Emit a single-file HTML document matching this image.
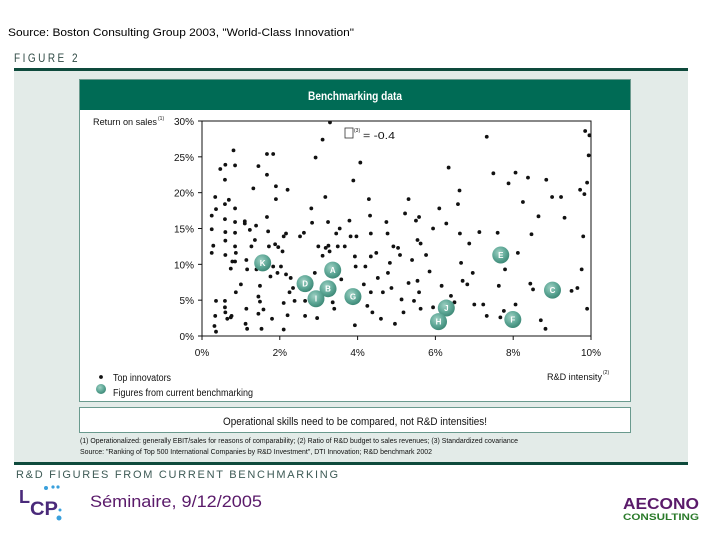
<!DOCTYPE html>
<html><head><meta charset="utf-8">
<style>
html,body{margin:0;padding:0;background:#fff;width:720px;height:540px;overflow:hidden}
svg{display:block;font-family:"Liberation Sans",sans-serif}
</style></head>
<body>
<svg id="root" width="720" height="540" viewBox="0 0 720 540">
<defs>
<radialGradient id="bub" cx="40%" cy="35%" r="65%">
<stop offset="0" stop-color="#9fd0c3"/><stop offset="0.6" stop-color="#5fa897"/><stop offset="1" stop-color="#3f8a78"/>
</radialGradient>
</defs>
<text x="8" y="36" font-size="11" fill="#000" textLength="346" lengthAdjust="spacingAndGlyphs">Source: Boston Consulting Group 2003, "World-Class Innovation"</text>
<text x="14" y="62" font-size="12" fill="#2f4a45" letter-spacing="3" textLength="66" lengthAdjust="spacingAndGlyphs">FIGURE 2</text>
<rect x="14" y="68" width="674" height="397" fill="#e3ebe8"/>
<rect x="14" y="68" width="674" height="3" fill="#0e4a3c"/>
<rect x="14" y="462" width="674" height="3" fill="#0e4a3c"/>
<rect x="79.5" y="79.5" width="551" height="322" fill="#fff" stroke="#6a9a8e"/>
<rect x="80" y="80" width="550" height="30" fill="#006b55"/>
<text x="355" y="100" font-size="12" font-weight="bold" fill="#fff" text-anchor="middle" textLength="94" lengthAdjust="spacingAndGlyphs">Benchmarking data</text>
<text x="93" y="125" font-size="9" fill="#111" textLength="64" lengthAdjust="spacingAndGlyphs">Return on sales</text>
<text x="158" y="120" font-size="5" fill="#111">(1)</text>
<g id="plot"></g>
<rect x="345" y="128" width="8" height="10" fill="none" stroke="#333" stroke-width="0.8"/>
<text x="354" y="132" font-size="5" fill="#111">(3)</text>
<text x="363" y="139" font-size="10" fill="#111" textLength="32" lengthAdjust="spacingAndGlyphs">= -0.4</text>
<circle cx="101" cy="377" r="1.9" fill="#111"/>
<text x="113" y="381" font-size="10" fill="#111" textLength="58" lengthAdjust="spacingAndGlyphs">Top innovators</text>
<circle cx="101" cy="389" r="5" fill="url(#bub)"/>
<text x="113" y="396" font-size="10" fill="#111" textLength="140" lengthAdjust="spacingAndGlyphs">Figures from current benchmarking</text>
<text x="547" y="380" font-size="9" fill="#111" textLength="55" lengthAdjust="spacingAndGlyphs">R&amp;D intensity</text>
<text x="603" y="374" font-size="5" fill="#111">(2)</text>
<rect x="79.5" y="407.5" width="551" height="25" fill="#fff" stroke="#6a9a8e"/>
<text x="355" y="425" font-size="11" fill="#111" text-anchor="middle" textLength="264" lengthAdjust="spacingAndGlyphs">Operational skills need to be compared, not R&amp;D intensities!</text>
<text x="80" y="443" font-size="7" fill="#111" textLength="438" lengthAdjust="spacingAndGlyphs">(1) Operationalized: generally EBIT/sales for reasons of comparability; (2) Ratio of R&amp;D budget to sales revenues; (3) Standardized covariance</text>
<text x="80" y="454" font-size="7" fill="#111" textLength="352" lengthAdjust="spacingAndGlyphs">Source: "Ranking of Top 500 International Companies by R&amp;D Investment", DTI Innovation; R&amp;D benchmark 2002</text>
<text x="16" y="478" font-size="11" fill="#3d5a55" textLength="322" lengthAdjust="spacing">R&amp;D FIGURES FROM CURRENT BENCHMARKING</text>
<g>
<text x="19" y="503" font-size="18" font-weight="bold" fill="#4a2a7a">L</text>
<text x="30" y="515" font-size="19" font-weight="bold" fill="#4a2a7a" textLength="28" lengthAdjust="spacingAndGlyphs">CP</text>
<circle cx="46" cy="488" r="2" fill="#3aa0dc"/><circle cx="53" cy="487" r="1.6" fill="#3aa0dc"/><circle cx="58" cy="487" r="1.6" fill="#3aa0dc"/>
<circle cx="60" cy="510" r="1.5" fill="#3aa0dc"/><circle cx="59" cy="518" r="2.5" fill="#3aa0dc"/>
</g>
<text x="90" y="507" font-size="17" fill="#5a1a6a" textLength="172" lengthAdjust="spacingAndGlyphs">Séminaire, 9/12/2005</text>
<text x="623" y="509" font-size="16" font-weight="bold" fill="#5a1a6a" textLength="76" lengthAdjust="spacingAndGlyphs">AECONO</text>
<text x="623" y="520" font-size="9" font-weight="bold" fill="#2a7a2a" textLength="76" lengthAdjust="spacingAndGlyphs">CONSULTING</text>
</svg>
<script>
const xTicks=[0,2,4,6,8,10];
const yTicks=[0,5,10,15,20,25,30];
const xTickLabels=["0%","2%","4%","6%","8%","10%"];
const yTickLabels=["0%","5%","10%","15%","20%","25%","30%"];
const innovX=[.25,.25,.29,.25,.34,.36,.36,.34,.32,.36,.47,.59,.6,.59,.59,.6,.6,.6,.59,.59,.6,.65,.69,.76,.81,.85,.85,.85,.85,.85,.87,.85,.78,.74,.87,.74,1.0,1.1,1.1,1.14,1.16,1.14,1.12,1.16,1.23,1.27,1.32,1.36,1.39,1.4,1.45,1.45,1.45,1.49,1.53,1.53,1.49,1.58,1.67,1.83,1.67,1.67,1.7,1.72,1.76,1.8,1.83,1.88,1.9,1.9,1.94,1.96,2.03,2.07,2.1,2.1,2.1,2.16,2.2,2.16,2.2,2.25,2.28,2.34,2.38,2.52,2.56,2.62,2.65,2.65,2.81,2.83,2.9,2.92,2.96,2.99,3.1,3.1,3.17,3.18,3.24,3.25,3.28,3.29,3.36,3.4,3.45,3.49,3.54,3.58,3.67,3.79,3.82,3.89,3.93,3.97,3.95,3.93,4.07,4.16,4.2,4.25,4.29,4.32,4.34,4.34,4.34,4.38,4.48,4.52,4.6,4.65,4.74,4.77,4.78,4.83,4.87,4.92,4.96,5.04,5.09,5.13,5.18,5.22,5.31,5.31,5.4,5.45,5.5,5.54,5.54,5.58,5.62,5.58,5.62,5.76,5.85,5.94,5.94,6.1,6.16,6.28,6.34,6.4,6.49,6.58,6.62,6.63,6.66,6.7,6.82,6.87,6.96,7.0,7.13,7.23,7.32,7.32,7.49,7.6,7.63,7.67,7.79,7.76,7.88,8.06,8.06,8.12,8.25,8.38,8.44,8.47,8.51,8.65,8.71,8.83,8.85,9.0,9.23,9.32,9.5,9.65,9.72,9.76,9.8,9.83,9.85,9.9,9.9,9.94,9.96];
const innovY=[16.8,14.9,12.6,11.6,19.4,17.7,4.9,2.8,1.4,0.6,23.3,21.8,23.9,18.4,16.3,14.5,13.3,11.3,4.9,4.0,3.3,2.4,19.0,2.8,25.9,23.8,17.8,15.9,14.4,12.5,11.6,10.4,10.4,9.4,6.1,2.6,7.2,16.0,15.7,10.6,9.3,3.8,1.7,1.0,14.8,12.5,20.6,13.4,15.4,9.3,23.7,5.5,3.1,7.0,1.0,11.0,4.8,3.7,25.4,25.4,16.6,22.5,14.6,12.5,8.3,2.4,9.7,12.8,19.1,20.9,8.8,12.4,9.7,11.8,13.9,4.6,0.9,14.3,20.4,8.6,2.9,6.1,8.1,6.7,4.9,13.9,7.9,14.4,2.8,4.9,17.8,15.8,8.8,24.9,2.5,12.5,27.4,11.2,19.4,12.3,15.9,12.6,11.8,29.8,4.7,3.8,14.3,12.5,15.0,7.9,12.5,16.1,13.9,21.7,11.1,13.9,9.7,1.5,24.2,7.2,9.7,4.2,19.1,16.8,14.3,11.1,6.1,3.3,11.6,8.1,2.4,6.1,15.9,14.3,8.8,10.2,6.7,12.5,1.7,12.3,11.3,5.1,3.3,17.1,19.1,7.4,10.6,4.9,16.1,13.4,7.7,16.6,12.9,6.1,3.8,11.3,9.0,15.0,4.0,17.8,7.0,15.7,23.5,5.6,4.7,18.4,20.3,14.3,10.2,7.7,7.2,12.9,8.8,4.4,14.5,4.4,27.8,2.8,22.7,14.4,7.0,2.6,9.3,3.5,21.3,22.8,4.4,11.6,18.7,22.1,7.3,14.2,6.5,16.7,2.2,1.0,21.8,19.4,19.4,16.5,6.3,6.7,20.4,9.3,13.9,19.8,28.6,21.4,3.8,25.2,28.0];
const benchLabels=["K","A","D","B","I","G","J","H","E","F","C"];
const benchX=[1.56,3.36,2.65,3.24,2.93,3.88,6.28,6.08,7.68,7.99,9.01];
const benchY=[10.2,9.2,7.3,6.6,5.2,5.5,3.9,2.0,11.3,2.3,6.4];

const NS="http://www.w3.org/2000/svg";
const L=202,R=591,T=121,B=336;
const sx=v=>L+(v-0)/(10-0)*(R-L);
const sy=v=>B-(v-0)/(30-0)*(B-T);
const plot=document.getElementById('plot');
function mk(tag,attrs,parent){const e=document.createElementNS(NS,tag);for(const k in attrs)e.setAttribute(k,attrs[k]);(parent||plot).appendChild(e);return e;}
const frame=mk('path',{d:`M${L},${T}H${R}V${B}H${L}Z`,fill:'none',stroke:'#111','stroke-width':1});


xTicks.forEach((t,i)=>{
 const tk=mk('line',{x1:sx(t),x2:sx(t),y1:B,y2:B+4,stroke:'#111'});
 
 
 const lb=mk('text',{x:sx(t),y:B+20,'font-size':10,'text-anchor':'middle',fill:'#111'});
 lb.textContent=xTickLabels[i];
 
 
});
yTicks.forEach((t,i)=>{
 const tk=mk('line',{x1:L-4,x2:L,y1:sy(t),y2:sy(t),stroke:'#111'});
 
 
 const lb=mk('text',{x:L-8,y:sy(t)+4,'font-size':10,'text-anchor':'end',fill:'#111'});
 lb.textContent=yTickLabels[i];
 
 
});
innovX.forEach((x,i)=>{
 const c=mk('circle',{cx:sx(x),cy:sy(innovY[i]),r:1.9,fill:'#111'});
 
 
});
benchX.forEach((x,i)=>{
 const g=mk('g',{});
 
 
 mk('circle',{cx:sx(x),cy:sy(benchY[i]),r:8.5,fill:'url(#bub)'},g);
 const t=mk('text',{x:sx(x),y:sy(benchY[i])+3,'font-size':8,'font-weight':'bold','text-anchor':'middle',fill:'#fff'},g);
 t.textContent=benchLabels[i];
});
</script>
</body></html>
